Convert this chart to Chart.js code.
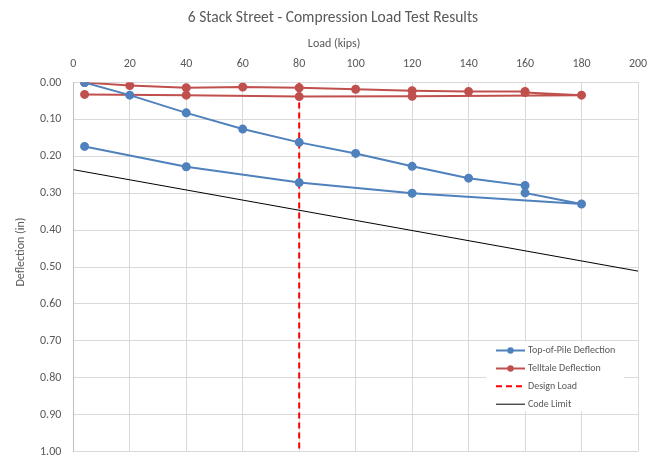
<!DOCTYPE html>
<html>
<head>
<meta charset="utf-8">
<style>
html,body{margin:0;padding:0;background:#fff;}
#wrap{width:651px;height:457px;position:relative;}
</style>
<script src="https://cdn.jsdelivr.net/npm/chart.js@4.4.1/dist/chart.umd.min.js"></script>
</head>
<body>
<div id="wrap"><canvas id="c" width="651" height="457"></canvas></div>
<script>
// ---- data ----
const loads = [4, 20, 40, 60, 80, 100, 120, 140, 160, 160, 180, 120, 80, 40, 4];
const topOfPile = [0.000, 0.034, 0.082, 0.126, 0.162, 0.192, 0.227, 0.259, 0.279, 0.299, 0.329, 0.300, 0.271, 0.228, 0.173];
const telltale = [0.000, 0.008, 0.014, 0.012, 0.014, 0.018, 0.022, 0.024, 0.024, 0.027, 0.034, 0.037, 0.038, 0.034, 0.032];
const designLoadX = [80, 80];
const designLoadY = [0, 1];
const codeLimitX = [0, 200];
const codeLimitY = [0.236, 0.511];
const seriesNames = ['Top-of-Pile Deflection', 'Telltale Deflection', 'Design Load', 'Code Limit'];
const xTicks = [0, 20, 40, 60, 80, 100, 120, 140, 160, 180, 200];
const yTicks = [0, 0.1, 0.2, 0.3, 0.4, 0.5, 0.6, 0.7, 0.8, 0.9, 1.0];

const FONT = "Carlito, Lato, 'Liberation Sans', sans-serif";
const TXT = '#595959';
const BLUE = '#4F81BD';
const RED = '#C0504D';

function pts(xs, ys){ return xs.map((x,i)=>({x:x, y:ys[i]})); }

// shift a scale's title drawing by dx / dy (pixels)
function shiftScaleTitle(s, dx, dy){
  if (s._titleShifted) return;
  s._titleShifted = true;
  const orig = s.drawTitle;
  s.drawTitle = function(){
    const L = this.left, R = this.right, T = this.top, B = this.bottom;
    this.left = L + dx; this.right = R + dx; this.top = T + dy; this.bottom = B + dy;
    try { orig.apply(this, arguments); }
    finally { this.left = L; this.right = R; this.top = T; this.bottom = B; }
  };
}

const titleShiftPlugin = {
  id: 'titleShift',
  afterLayout(chart){
    const t = chart.titleBlock;
    if (t){ t.left = 28; t.right = 638; }
  }
};

const legendPlugin = {
  id: 'insideLegend',
  afterDraw(chart){
    const ctx = chart.ctx;
    const ca = chart.chartArea;
    const bx = ca.right - 152, by = ca.bottom - 110, bw = 138, bh = 70;
    ctx.save();
    ctx.fillStyle = '#ffffff';
    ctx.fillRect(bx, by, bw, bh);
    const rows = [by + 9, by + 27, by + 44.7, by + 62.7];
    const x0 = bx + 10, x1 = bx + 39;
    chart.data.datasets.forEach((ds, i) => {
      const y = rows[i];
      ctx.beginPath();
      ctx.strokeStyle = ds.borderColor;
      ctx.lineWidth = ds.borderWidth;
      ctx.setLineDash(ds.borderDash || []);
      ctx.moveTo(x0, y); ctx.lineTo(x1, y);
      ctx.stroke();
      ctx.setLineDash([]);
      if (ds.pointRadius > 0){
        ctx.beginPath();
        ctx.fillStyle = ds.backgroundColor;
        ctx.arc((x0+x1)/2, y, 3.2, 0, Math.PI*2);
        ctx.fill();
      }
      ctx.fillStyle = TXT;
      ctx.font = "10px " + FONT;
      ctx.textBaseline = 'middle';
      ctx.textAlign = 'left';
      ctx.fillText(ds.label, x1 + 3, y);
    });
    ctx.restore();
  }
};

new Chart(document.getElementById('c'), {
  type: 'scatter',
  data: {
    datasets: [
      {label: seriesNames[0], data: pts(loads, topOfPile), showLine: true, borderColor: BLUE, backgroundColor: BLUE, borderWidth: 2, pointRadius: 3.5, pointHoverRadius: 3.5},
      {label: seriesNames[1], data: pts(loads, telltale), showLine: true, borderColor: RED, backgroundColor: RED, borderWidth: 2, pointRadius: 3.5, pointHoverRadius: 3.5},
      {label: seriesNames[2], data: pts(designLoadX, designLoadY), showLine: true, borderColor: '#FF0000', backgroundColor: '#FF0000', borderWidth: 2, borderDash: [6,4], pointRadius: 0},
      {label: seriesNames[3], data: pts(codeLimitX, codeLimitY), showLine: true, borderColor: '#000000', backgroundColor: '#000000', borderWidth: 1, pointRadius: 0}
    ]
  },
  options: {
    responsive: false,
    animation: false,
    layout: {padding: {left: 0, right: 13, top: 0, bottom: 5}},
    plugins: {
      legend: {display: false},
      tooltip: {enabled: false},
      title: {display: true, text: '6 Stack Street - Compression Load Test Results', color: TXT,
        font: {family: FONT, size: 15.5, weight: 'normal'}, padding: {top: 9, bottom: 2}}
    },
    scales: {
      x: {
        type: 'linear', position: 'top', min: 0, max: 200,
        afterBuildTicks: s => { s.ticks = xTicks.map(v => ({value: v})); },
        afterFit: s => { s.height = 53; s.paddingLeft = 0; s.paddingRight = 0; shiftScaleTitle(s, -21.5, 0); },
        ticks: {color: TXT, font: {family: FONT, size: 12}, padding: 11},
        grid: {color: '#D9D9D9', drawTicks: false},
        border: {color: '#D9D9D9'},
        title: {display: true, text: 'Load (kips)', color: TXT, font: {family: FONT, size: 12}, padding: {top: 7, bottom: 0}}
      },
      y: {
        type: 'linear', reverse: true, min: 0, max: 1,
        afterBuildTicks: s => { s.ticks = yTicks.map(v => ({value: v})); },
        afterFit: s => { s.width = 73.3; s.paddingTop = 0; s.paddingBottom = 0; shiftScaleTitle(s, 0, -15); },
        ticks: {color: TXT, font: {family: FONT, size: 12}, padding: 12, callback: v => Number(v).toFixed(2)},
        grid: {color: '#D9D9D9', drawTicks: false},
        border: {color: '#BFBFBF'},
        title: {display: true, text: 'Deflection (in)', color: TXT, font: {family: FONT, size: 12}, padding: {top: 14, bottom: 0}}
      }
    }
  },
  plugins: [titleShiftPlugin, legendPlugin]
});
</script>
</body>
</html>
